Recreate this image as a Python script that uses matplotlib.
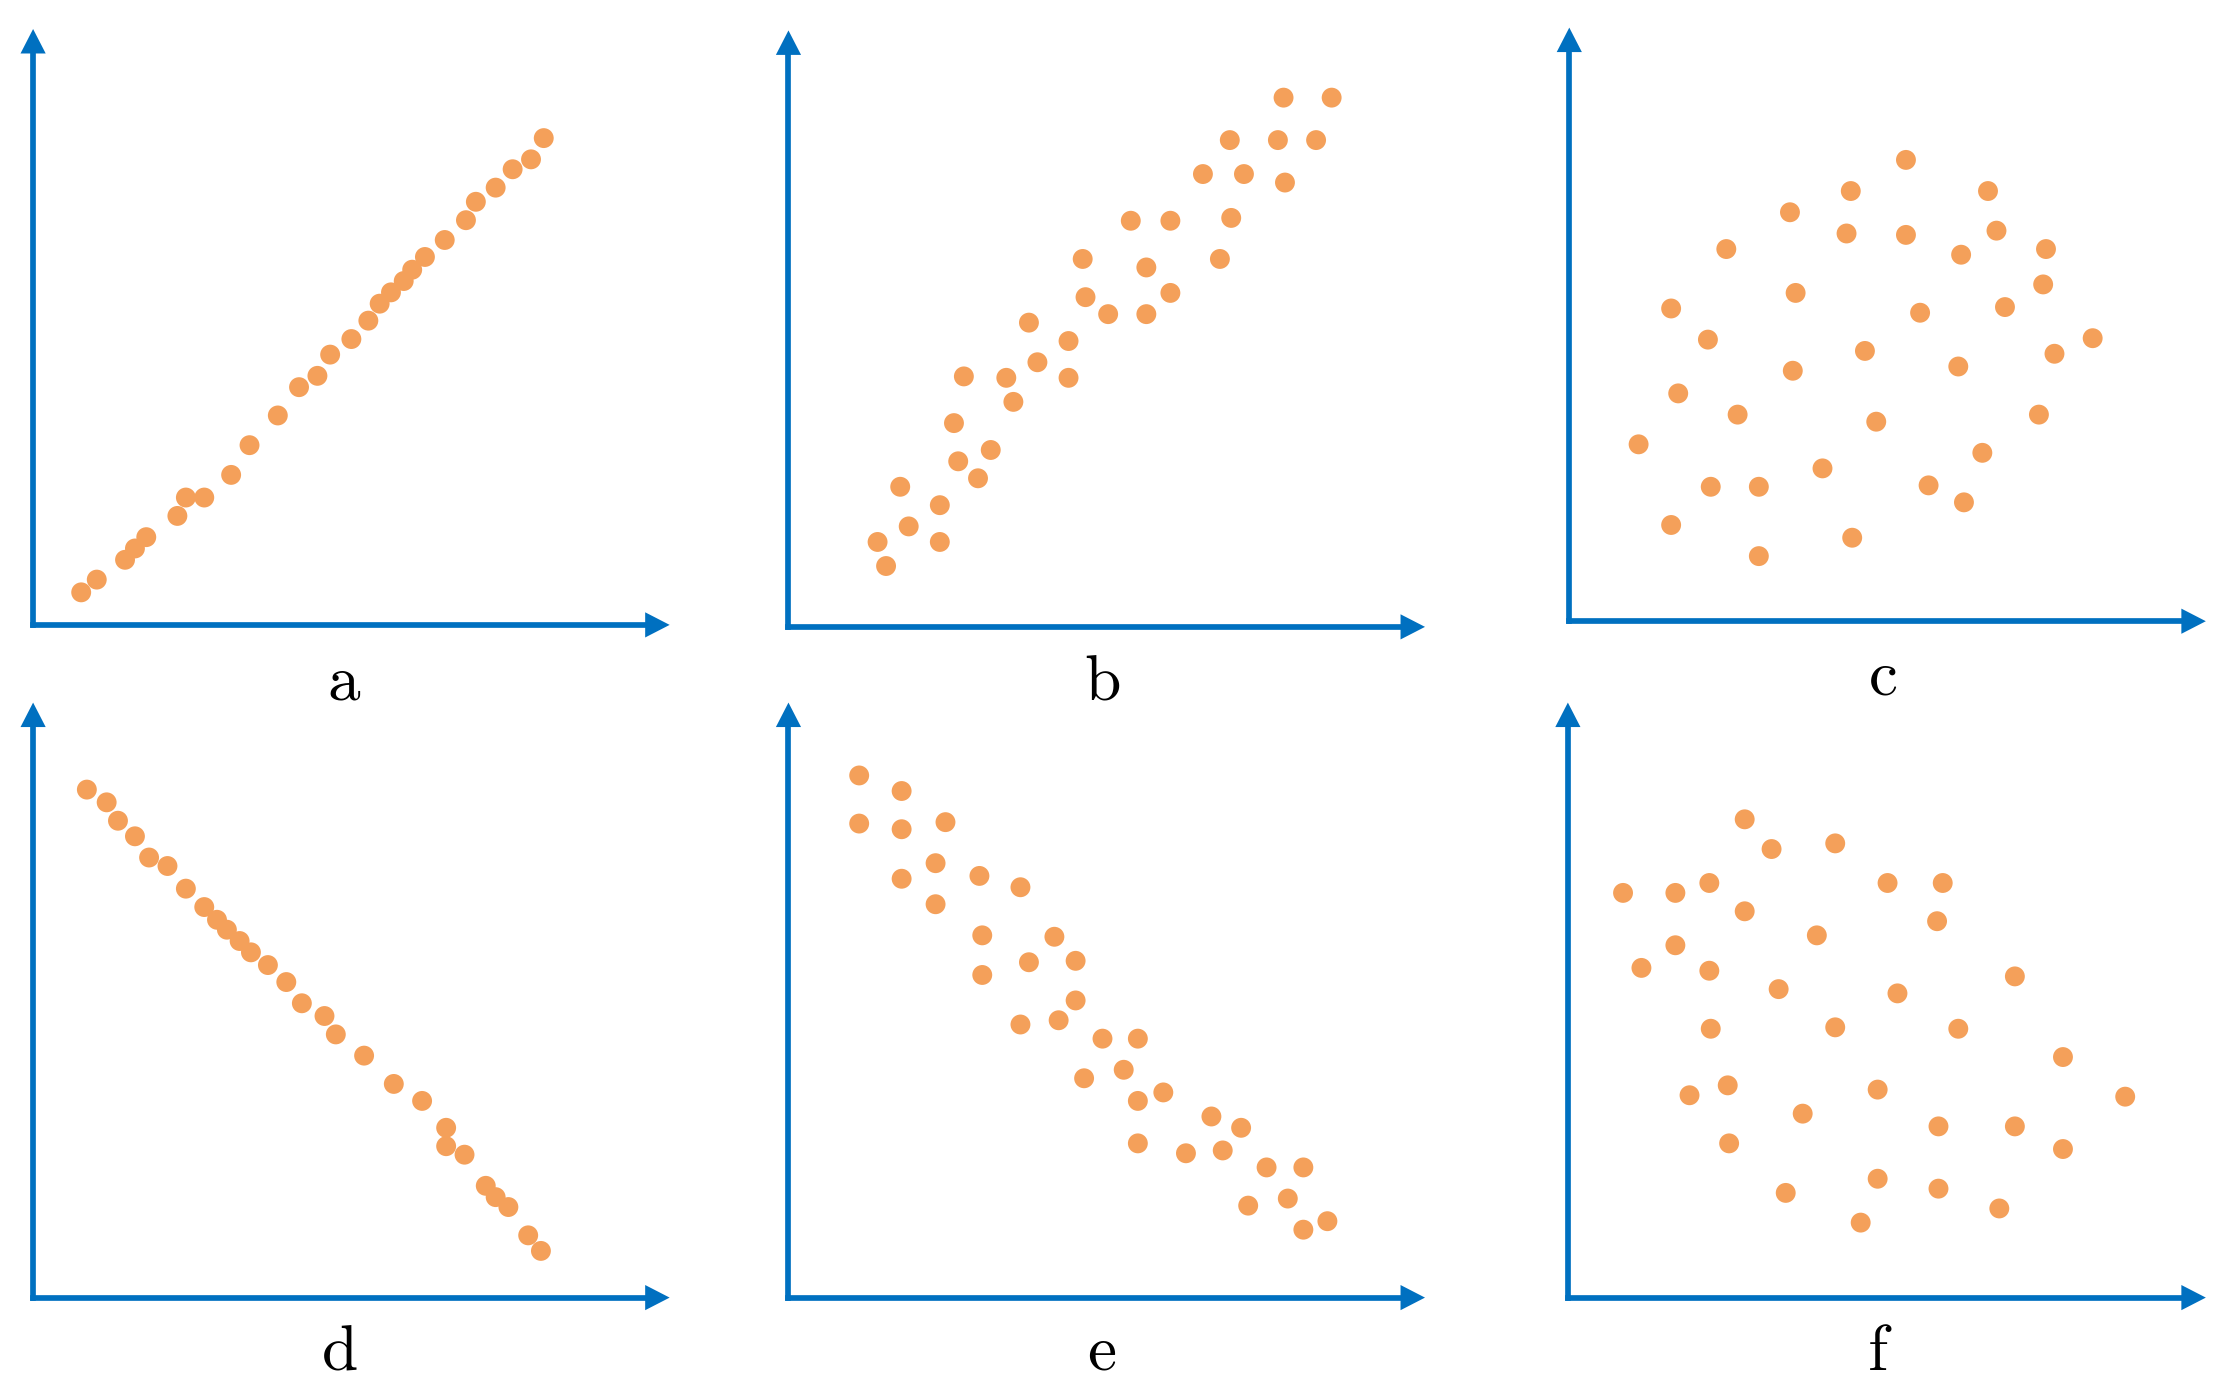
import matplotlib
matplotlib.use("Agg")
import matplotlib.pyplot as plt
from matplotlib.patches import Polygon

plt.rcParams['mathtext.fontset'] = 'cm'

# Panel data (x, y in arbitrary units measured from the axis origin)
a_x = [34, 45, 65, 72, 80, 102, 108, 121, 140, 153, 173, 188, 201, 210, 225, 237, 245, 253, 262, 268, 277, 291, 306, 313, 327, 339, 352, 361]
a_y = [23, 32, 46, 54, 62, 77, 90, 90, 106, 127, 148, 168, 176, 191, 202, 215, 227, 235, 243, 251, 260, 272, 286, 299, 309, 322, 329, 344]

b_x = [63, 69, 79, 85, 107, 107, 117, 120, 124, 134, 143, 154, 159, 170, 176, 198, 198, 208, 210, 226, 242, 253, 253, 270, 270, 293, 305, 312, 313, 322, 346, 350, 351, 373, 384]
b_y = [60, 43, 99, 71, 86, 60, 144, 117, 177, 105, 125, 176, 159, 215, 187, 202, 176, 260, 233, 221, 287, 254, 221, 287, 236, 320, 260, 344, 289, 320, 344, 374, 314, 344, 374]

c_x = [49, 72, 72, 77, 98, 100, 111, 119, 134, 134, 156, 158, 160, 179, 196, 199, 200, 209, 217, 238, 238, 248, 254, 275, 277, 279, 292, 296, 302, 308, 332, 335, 337, 343, 370]
c_y = [125, 221, 68, 161, 199, 95, 263, 146, 95, 46, 289, 177, 232, 108, 274, 304, 59, 191, 141, 326, 273, 218, 96, 180, 259, 84, 119, 304, 276, 222, 146, 238, 263, 189, 200]

d_x = [38, 52, 60, 72, 82, 95, 108, 121, 130, 137, 146, 154, 166, 179, 190, 206, 214, 234, 255, 275, 292, 292, 305, 320, 327, 336, 350, 359]
d_y = [359, 350, 337, 326, 311, 305, 289, 276, 267, 260, 252, 244, 235, 223, 208, 199, 186, 171, 151, 139, 120, 107, 101, 79, 71, 64, 44, 33]

e_x = [50, 50, 80, 80, 80, 104, 104, 111, 135, 137, 137, 164, 164, 170, 188, 191, 203, 203, 209, 222, 237, 247, 247, 247, 265, 281, 299, 307, 320, 325, 338, 353, 364, 364, 381]
e_y = [369, 335, 358, 331, 296, 307, 278, 336, 298, 256, 228, 290, 193, 237, 255, 196, 238, 210, 155, 183, 161, 183, 139, 109, 145, 102, 128, 104, 120, 65, 92, 70, 92, 48, 54]

f_x = [39, 52, 76, 76, 86, 100, 100, 101, 113, 114, 125, 125, 144, 149, 154, 166, 176, 189, 189, 207, 219, 219, 226, 233, 261, 262, 262, 265, 276, 305, 316, 316, 350, 350, 394]
f_y = [286, 233, 286, 249, 143, 293, 231, 190, 150, 109, 338, 273, 317, 218, 74, 130, 256, 321, 191, 53, 147, 84, 293, 215, 266, 121, 77, 293, 190, 63, 227, 121, 170, 105, 142]

labels = ['a', 'b', 'c', 'd', 'e', 'f']

# layout (in reference 1568x983 display units): origin x, origin y, x tip, y tip, label x, label baseline
layout = [
    (23.4, 441.6, 473.4, 20.5, 243, 494),
    (557.4, 443.0, 1007.4, 21.5, 779, 494),
    (1109.4, 439.0, 1559.4, 19.5, 1331, 491),
    (23.4, 917.0, 473.4, 496.5, 240, 968),
    (557.4, 917.0, 1007.4, 496.5, 779, 968),
    (1108.4, 917.0, 1559.4, 496.5, 1329, 968),
]
data = [(a_x, a_y), (b_x, b_y), (c_x, c_y), (d_x, d_y), (e_x, e_y), (f_x, f_y)]

W, H = 1568.0, 983.0
BLUE = '#0070C0'
ORANGE = '#F4A05A'

fig = plt.figure(figsize=(22.18, 13.91), dpi=100)

for (ox, oy, tx, ty, lx, ly), (xs, ys), lab in zip(layout, data, labels):
    w = tx - ox
    h = oy - ty
    ax = fig.add_axes([ox / W, 1 - oy / H, w / W, h / H])
    ax.set_xlim(0, w)
    ax.set_ylim(0, h)
    ax.axis('off')
    hl = 17.3  # arrow head length
    hw = 8.9   # arrow head half width
    ax.plot([0, 0], [0, h - hl + 1], color=BLUE, lw=4.1, solid_capstyle='projecting', clip_on=False)
    ax.plot([0, w - hl + 1], [0, 0], color=BLUE, lw=4.1, solid_capstyle='projecting', clip_on=False)
    ax.add_patch(Polygon([[-hw, h - hl], [hw, h - hl], [0, h]], closed=True,
                         facecolor=BLUE, edgecolor='none', clip_on=False))
    ax.add_patch(Polygon([[w - hl, -hw], [w - hl, hw], [w, 0]], closed=True,
                         facecolor=BLUE, edgecolor='none', clip_on=False))
    ax.scatter(xs, ys, s=205, color=ORANGE, edgecolors='none', clip_on=False, zorder=3)
    fig.text(lx / W, 1 - ly / H, r'$\mathrm{%s}$' % lab, fontsize=47,
             ha='center', va='baseline', color='black')

fig.savefig('out.png', dpi=100, facecolor='white')
